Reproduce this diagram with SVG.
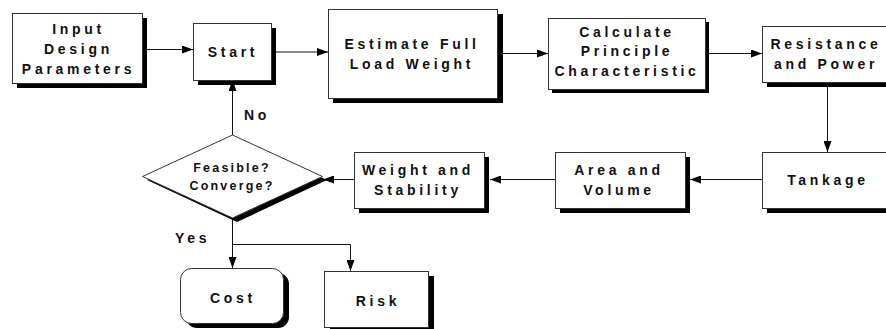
<svg xmlns="http://www.w3.org/2000/svg" width="886" height="329" viewBox="0 0 886 329">
<defs>
<style>
.sh{fill:#000}
.bx{fill:#fff;stroke:#333;stroke-width:1}
.t{font-family:"Liberation Sans",Arial,sans-serif;font-weight:bold;font-size:14px;letter-spacing:3.7px;fill:#111;text-anchor:middle}
.ts{font-size:12.5px;letter-spacing:2.2px}
.tl{text-anchor:start}
.c{fill:none;stroke:#111;stroke-width:1}
</style>
<marker id="ah" viewBox="0 0 11 8" refX="11" refY="4" markerWidth="11" markerHeight="8" markerUnits="userSpaceOnUse" orient="auto">
<path d="M0,0 L11,4 L0,8 Z" fill="#000"/>
</marker>
</defs>
<rect width="886" height="329" fill="#fff"/>

<g id="connectors">
<line class="c" x1="142" y1="49.5" x2="193" y2="49.5" marker-end="url(#ah)"/>
<line class="c" x1="271" y1="52" x2="328" y2="52" marker-end="url(#ah)"/>
<line class="c" x1="497" y1="53.5" x2="548" y2="53.5" marker-end="url(#ah)"/>
<line class="c" x1="705" y1="53.5" x2="762" y2="53.5" marker-end="url(#ah)"/>
<line class="c" x1="827.5" y1="82" x2="827.5" y2="152" marker-end="url(#ah)"/>
<line class="c" x1="762" y1="179.5" x2="690" y2="179.5" marker-end="url(#ah)"/>
<line class="c" x1="555" y1="179.5" x2="490" y2="179.5" marker-end="url(#ah)"/>
<line class="c" x1="354" y1="179.5" x2="323" y2="179.5" marker-end="url(#ah)"/>
<line class="c" x1="232.5" y1="135" x2="232.5" y2="80" marker-end="url(#ah)"/>
<line class="c" x1="232.5" y1="218" x2="232.5" y2="268" marker-end="url(#ah)"/>
<polyline class="c" points="232.5,244.5 350.5,244.5 350.5,271" marker-end="url(#ah)"/>
<text class="t tl" x="244" y="120">No</text>
<text class="t tl" x="175" y="243">Yes</text>
</g>

<g id="input">
<rect class="sh" x="17" y="18" width="130" height="70"/>
<rect class="bx" x="12.5" y="13.5" width="130" height="70"/>
<text class="t" x="78.5" y="34">Input</text>
<text class="t" x="78.5" y="54">Design</text>
<text class="t" x="78.5" y="74">Parameters</text>
</g>

<g id="start">
<rect class="sh" x="198" y="28" width="78" height="57"/>
<rect class="bx" x="193.5" y="23.5" width="78" height="57"/>
<text class="t" x="233" y="57">Start</text>
</g>

<g id="estimate">
<rect class="sh" x="333" y="14" width="170" height="89"/>
<rect class="bx" x="328.5" y="9.5" width="169" height="89"/>
<text class="t" x="412" y="49">Estimate Full</text>
<text class="t" x="412" y="69">Load Weight</text>
</g>

<g id="calculate">
<rect class="sh" x="552" y="22" width="157" height="71"/>
<rect class="bx" x="548.5" y="18.5" width="157" height="71"/>
<text class="t" x="627" y="37">Calculate</text>
<text class="t" x="627" y="56">Principle</text>
<text class="t" x="627" y="75.5">Characteristic</text>
</g>

<g id="resistance">
<rect class="sh" x="767" y="31" width="130" height="56"/>
<rect class="bx" x="762.5" y="26.5" width="130" height="56"/>
<text class="t" x="826" y="49">Resistance</text>
<text class="t" x="826" y="69">and Power</text>
</g>

<g id="tankage">
<rect class="sh" x="767" y="157" width="130" height="56"/>
<rect class="bx" x="762.5" y="152.5" width="130" height="56"/>
<text class="t" x="828" y="185">Tankage</text>
</g>

<g id="area">
<rect class="sh" x="560" y="157" width="130" height="56"/>
<rect class="bx" x="555.5" y="152.5" width="130" height="56"/>
<text class="t" x="619" y="175">Area and</text>
<text class="t" x="619" y="195">Volume</text>
</g>

<g id="weight">
<rect class="sh" x="359" y="157" width="130" height="56"/>
<rect class="bx" x="354.5" y="152.5" width="130" height="56"/>
<text class="t" x="418" y="175">Weight and</text>
<text class="t" x="418" y="195">Stability</text>
</g>

<g id="decision">
<polygon class="sh" points="237,139 327,180 237,222 147,180"/>
<polygon class="bx" points="232.5,135 322.5,176.5 232.5,218 142.5,176.5"/>
<text class="t ts" x="232" y="172">Feasible?</text>
<text class="t ts" x="232" y="190">Converge?</text>
</g>

<g id="cost">
<rect class="sh" x="186" y="273" width="103" height="55" rx="11"/>
<rect class="bx" x="180.5" y="268.5" width="103" height="55" rx="11"/>
<text class="t" x="233" y="303">Cost</text>
</g>

<g id="risk">
<rect class="sh" x="330" y="276" width="104" height="56"/>
<rect class="bx" x="324.5" y="271.5" width="104" height="56"/>
<text class="t" x="378" y="306">Risk</text>
</g>
</svg>
